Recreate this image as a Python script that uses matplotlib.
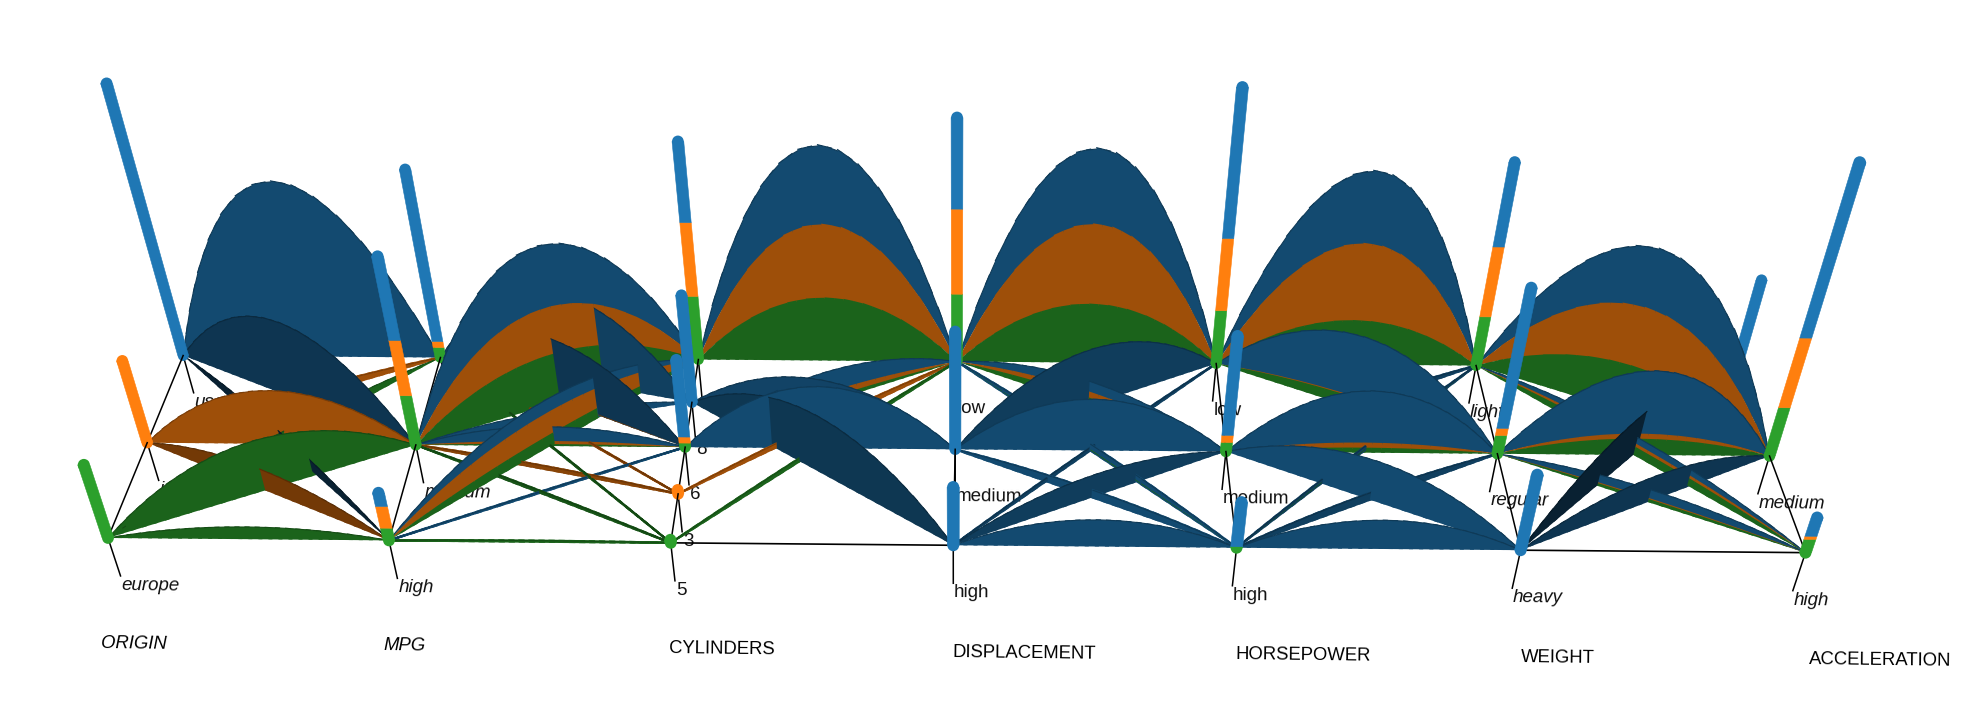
import numpy as np
import matplotlib
matplotlib.use('Agg')
import matplotlib.pyplot as plt
from matplotlib.patches import Polygon, Circle

plt.rcParams['font.family'] = ['Liberation Sans', 'DejaVu Sans']

# Dimensions, levels listed front row to back row
dimensions = ['ORIGIN', 'MPG', 'CYLINDERS', 'DISPLACEMENT', 'HORSEPOWER', 'WEIGHT', 'ACCELERATION']
levels = [
    ['europe', 'japan', 'usa'],
    ['high', 'medium', 'low'],
    ['5', '3', '6', '8', '4'],
    ['high', 'medium', 'low'],
    ['high', 'medium', 'low'],
    ['heavy', 'regular', 'light'],
    ['high', 'medium', 'low'],
]

# Stacked bar values per level (cars)
bar_green = [[70, 0, 0], [12, 48, 10], [3, 0, 4, 0, 62], [0, 0, 66], [1, 9, 52], [0, 18, 48], [13, 47, 0]]
bar_orange = [[0, 79, 0], [21, 52, 6], [0, 4, 6, 0, 69], [0, 0, 79], [0, 7, 68], [0, 7, 66], [3, 65, 0]]
bar_blue = [[0, 0, 249], [13, 75, 161], [0, 0, 74, 103, 72], [56, 112, 80], [43, 94, 132], [72, 130, 76], [18, 150, 85]]

# Flows: (source level, target level, green, orange, blue)
origin_mpg = [(2, 2, 0, 0, 166), (2, 1, 0, 0, 75), (2, 0, 0, 0, 13),
              (1, 2, 0, 6, 0), (1, 1, 0, 52, 0), (1, 0, 0, 21, 0),
              (0, 2, 10, 0, 0), (0, 1, 48, 0, 0), (0, 0, 12, 0, 0)]
mpg_cyl = [(2, 3, 0, 0, 85), (2, 2, 0, 1, 60), (2, 4, 8, 3, 14), (2, 1, 0, 1, 0), (2, 0, 1, 0, 0),
           (1, 4, 47, 44, 56), (1, 2, 2, 3, 14), (1, 3, 0, 0, 12), (1, 1, 0, 3, 0), (1, 0, 2, 0, 0),
           (0, 4, 11, 21, 12), (0, 2, 0, 0, 1), (0, 0, 1, 0, 0)]
cyl_disp = [(4, 2, 62, 69, 70), (2, 2, 4, 6, 20), (2, 1, 0, 0, 60),
            (3, 0, 0, 0, 55), (3, 1, 0, 0, 45), (1, 2, 0, 4, 0), (0, 2, 3, 0, 0)]
disp_hp = [(2, 2, 58, 75, 67), (2, 1, 8, 6, 10), (2, 0, 1, 0, 5),
           (1, 2, 0, 0, 55), (1, 1, 0, 0, 50), (1, 0, 0, 0, 7),
           (0, 2, 0, 0, 3), (0, 1, 0, 0, 22), (0, 0, 0, 0, 26)]
hp_weight = [(2, 2, 44, 73, 65), (2, 1, 10, 1, 58),
             (1, 2, 0, 0, 5), (1, 1, 5, 5, 50), (1, 0, 0, 0, 38),
             (0, 2, 1, 0, 3), (0, 1, 0, 0, 7), (0, 0, 0, 0, 28)]
weight_accel = [(2, 1, 44, 55, 53), (2, 0, 8, 3, 6), (2, 2, 0, 0, 10),
                (1, 1, 16, 5, 60), (1, 2, 0, 0, 35), (1, 0, 3, 1, 8),
                (0, 2, 0, 0, 40), (0, 1, 0, 0, 25)]
all_flows = [origin_mpg, mpg_cyl, cyl_disp, disp_hp, hp_weight, weight_accel]
# links without cars, drawn as plain black lines (column, source, target)
empty_links = [(2, 0, 0), (5, 0, 0)]

colors = ['#2ca02c', '#ff7f0e', '#1f77b4']

# Camera: where the floor rows land on the picture, and where uprights converge
S = 1988 / 1570
front_row = [(85, 425), (308, 426), (530, 428), (752, 431), (977, 433), (1201, 436), (1426, 437)]
middle_row = [(116, 350), (328, 351), (541, 352), (754, 354), (969, 356), (1183, 358), (1396, 360)]
back_row = [(145, 282), (347, 283), (553, 284), (755, 285), (960, 287), (1166, 289), (1372, 290)]
vanish = np.array([755, 2450]) * S
K = -0.000397

A, b = [], []
for y, floor_row in zip((0, 0.5, 1), (front_row, middle_row, back_row)):
    for x, (u, v) in enumerate(floor_row):
        u, v = u * S, v * S
        A.append([x, y, 1, 0, 0, 0, -u * x, -u * y])
        A.append([0, 0, 0, x, y, 1, -v * x, -v * y])
        b += [u, v]
h = np.linalg.lstsq(np.array(A, float), np.array(b, float), rcond=None)[0]
H = np.array([h[:3], h[3:6], [h[6], h[7], 1]])
H = H / (H[2] @ np.array([3, 0, 1]))


def project(x, y, z):
    q = H @ np.array([x, y, 1.0]) + z * K * np.array([vanish[0], vanish[1], 1.0])
    return q[0] / q[2], q[1] / q[2]


def floor_depth(x, y):
    # ribbons are upright sheets, so they can be ordered by where they stand on the floor
    return H[2] @ np.array([x, y, 1.0])


def row(col, i):
    return i / (len(levels[col]) - 1)


def shade(c, f):
    return tuple(np.array(matplotlib.colors.to_rgb(c)) * f)


fig = plt.figure(figsize=(19.88, 7.24), dpi=100)
ax = fig.add_axes([0, 0, 1, 1])
ax.set_xlim(0, 1988)
ax.set_ylim(724, 0)
ax.axis('off')

items = []  # (depth, artist)

# ribbons: a parabola with 14 facets, cut finer only for the depth order.
# each slice runs a bit into the next one and bands tuck under each other, so no seams show
FACETS = 14
SEGS = 28
OVERLAP = 0.4 / SEGS
TUCK = 1.5
facet_t = np.linspace(0, 1, FACETS + 1)
facet_h = 4 * facet_t * (1 - facet_t)
for col, flows in enumerate(all_flows):
    s = (col - 2.5) / 3
    for src, dst, g, o, bl in flows:
        y0, y1 = row(col, src), row(col + 1, dst)
        dy = y1 - y0
        total = g + o + bl
        dark = 1.0
        if dy * s > 0:
            dark = 1 - 0.55 * abs(dy) * min(1, abs(s) * 2 + 0.3)
        if total <= 8:
            dark = max(dark, 0.85)
        bands = [(g + o + bl, bl, colors[2]), (g + o, o, colors[1]), (g, g, colors[0])]
        for n in range(SEGS):
            t0 = n / SEGS
            t1 = min(1, (n + 1) / SEGS + OVERLAP)
            p0, p1 = np.interp([t0, t1], facet_t, facet_h)
            ya, yb = y0 + dy * t0, y0 + dy * t1
            depth = floor_depth(col + (t0 + t1) / 2, (ya + yb) / 2)
            first = True
            for top, count, c in bands:
                if count == 0:
                    continue
                color = shade(c, 0.62 * dark)
                low = max(0, top - count - TUCK)
                corners = [project(col + t0, ya, low * p0), project(col + t1, yb, low * p1),
                           project(col + t1, yb, top * p1), project(col + t0, ya, top * p0)]
                lw = 1.6 if total <= 8 and count >= total / 2 else 0
                edge = color if lw else 'none'
                items.append((depth, Polygon(corners, closed=True, facecolor=color, edgecolor=edge, linewidth=lw)))
                if first:
                    # darker rim along the top of the stack
                    rim = plt.Line2D([corners[3][0], corners[2][0]], [corners[3][1], corners[2][1]],
                                     color=tuple(np.array(color) * 0.78), lw=0.8)
                    first = False
            items.append((depth, rim))

# bars
HALF = 0.021
BAR_BIAS = 0.004
for col in range(len(levels)):
    for i in range(len(levels[col])):
        y = row(col, i)
        depth = floor_depth(col, y) - BAR_BIAS
        bottom = 0
        vals = [bar_green[col][i], bar_orange[col][i], bar_blue[col][i]]
        shown = [c for v, c in zip(vals, colors) if v > 0]
        for z, c in ((0, shown[0]), (sum(vals), shown[-1])):
            l = project(col - HALF, y, z)
            r = project(col + HALF, y, z)
            m = project(col, y, z)
            items.append((depth, Circle(m, (r[0] - l[0]) / 2, facecolor=c, edgecolor='none')))
        for v, c in zip(vals, colors):
            if v == 0:
                continue
            corners = [project(col - HALF, y, bottom), project(col + HALF, y, bottom),
                       project(col + HALF, y, bottom + v), project(col - HALF, y, bottom + v)]
            items.append((depth, Polygon(corners, closed=True, facecolor=c, edgecolor=c, linewidth=0.4)))
            bottom += v

# axis lines, leaders and labels
LEADER = -38
italic_cols = [0, 1, 5, 6]
for col in range(len(levels)):
    n = len(levels[col])
    for i in range(n - 1):
        a = project(col, row(col, i), 0)
        b2 = project(col, row(col, i + 1), 0)
        line = plt.Line2D([a[0], b2[0]], [a[1], b2[1]], color='black', lw=1.1)
        items.append((floor_depth(col, (row(col, i) + row(col, i + 1)) / 2) + 0.002, line))
    for i, name in enumerate(levels[col]):
        y = row(col, i)
        depth = floor_depth(col, y) + 0.002
        a = project(col, y, 0)
        e = project(col, y, LEADER)
        items.append((depth, plt.Line2D([a[0], e[0]], [a[1], e[1]], color='black', lw=1.1)))
        txt = ax.text(e[0] + 1, e[1] + 1, name, ha='left', va='top', fontsize=13.5, rotation=-0.5,
                      rotation_mode='anchor', style='italic' if col in italic_cols else 'normal', color='#111111')
        items.append((depth, txt))

for col, src, dst in empty_links:
    a = project(col, row(col, src), 0)
    e = project(col + 1, row(col + 1, dst), 0)
    line = plt.Line2D([a[0], e[0]], [a[1], e[1]], color='black', lw=1.2)
    items.append((floor_depth(col + 0.5, (row(col, src) + row(col + 1, dst)) / 2) + 0.002, line))

items.sort(key=lambda it: -it[0])
for n, (d, art) in enumerate(items):
    art.set_zorder(2 + n * 0.001)
    if isinstance(art, plt.Line2D):
        ax.add_line(art)
    elif isinstance(art, (Polygon, Circle)):
        ax.add_patch(art)

# dimension titles
title_x = [80, 303, 528, 752, 976, 1201, 1429]
title_y = [508, 510, 512, 515, 517, 519, 521]
for col, name in enumerate(dimensions):
    ax.text(title_x[col] * S, title_y[col] * S, name, ha='left', va='center', fontsize=13.3, rotation=-0.7,
            rotation_mode='anchor', style='italic' if col < 2 else 'normal', color='black')

fig.savefig('out.png', dpi=100, facecolor='white')
